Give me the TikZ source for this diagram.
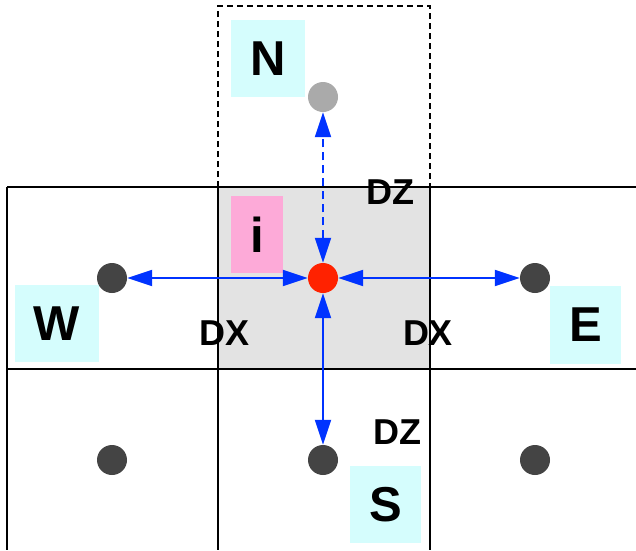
\documentclass[tikz,border=0pt]{standalone}
\usepackage{fontspec}
\setmainfont{Liberation Sans}
\usetikzlibrary{arrows.meta}
\definecolor{cellgray}{HTML}{E3E3E3}
\definecolor{labcyan}{HTML}{D5FDFD}
\definecolor{labpink}{HTML}{FDAAD8}
\definecolor{arrblue}{HTML}{0033FF}
\definecolor{dotdark}{HTML}{444444}
\definecolor{dotgray}{HTML}{AAAAAA}
\definecolor{dotred}{HTML}{FF2200}
\tikzset{
  gridline/.style={line width=2pt, black},
  dotnode/.style={circle, minimum size=30pt, inner sep=0pt, fill=dotdark},
  labbox/.style={fill=labcyan, inner sep=0pt, font=\bfseries\fontsize{49}{49}\selectfont},
  dimlab/.style={inner sep=0pt, font=\bfseries\fontsize{36}{36}\selectfont},
  arr/.style={line width=2pt, arrblue, {Triangle[length=25pt,width=16pt]}-{Triangle[length=25pt,width=16pt]}},
}
\begin{document}
\begin{tikzpicture}[x=1pt,y=-1pt]
\useasboundingbox (0,0) rectangle (636,550);
\fill[white] (0,0) rectangle (636,550);
% centre cell
\fill[cellgray] (218,187) rectangle (430,369);
% dashed north cell
\draw[line width=1.5pt, dash pattern=on 6pt off 4pt] (218,187) -- (218,6) -- (430,6) -- (430,187);
% grid
\draw[gridline] (7,187) -- (636,187);
\draw[gridline] (7,369) -- (636,369);
\draw[gridline] (7,187) -- (7,550);
\draw[gridline] (218,187) -- (218,550);
\draw[gridline] (430,187) -- (430,550);
% label boxes
\node[labbox, minimum width=74pt, minimum height=77pt] (Nbox) at (268,58.5) {N};
\node[labbox, fill=labpink, minimum width=52pt, minimum height=77pt] (ibox) at (257,234.5) {i};
\node[labbox, minimum width=84pt, minimum height=77pt] (Wbox) at (57,323.5) {W};
\node[labbox, minimum width=71pt, minimum height=78pt] (Ebox) at (585.5,325) {E};
\node[labbox, minimum width=71pt, minimum height=77pt] (Sbox) at (385.5,504.5) {S};
% dots
\node[dotnode, fill=dotgray] (n) at (323,97) {};
\node[dotnode, fill=dotred] (c) at (323,278) {};
\node[dotnode] (w) at (112,278) {};
\node[dotnode] (e) at (535,278) {};
\node[dotnode] (s) at (323,460) {};
\node[dotnode] (sw) at (112,460) {};
\node[dotnode] (se) at (535,460) {};
% dimension labels
\node[dimlab] (dz1) at (390,192) {DZ};
\node[dimlab] (dx1) at (225,333) {DX};
\node[dimlab] (dx2) at (428,333) {DX};
\node[dimlab] (dz2) at (397,432) {DZ};
% arrows
\draw[arr, dash pattern=on 8pt off 5pt] (c) -- (n);
\draw[arr] (c) -- (w);
\draw[arr] (c) -- (e);
\draw[arr] (c) -- (s);
\end{tikzpicture}
\end{document}
